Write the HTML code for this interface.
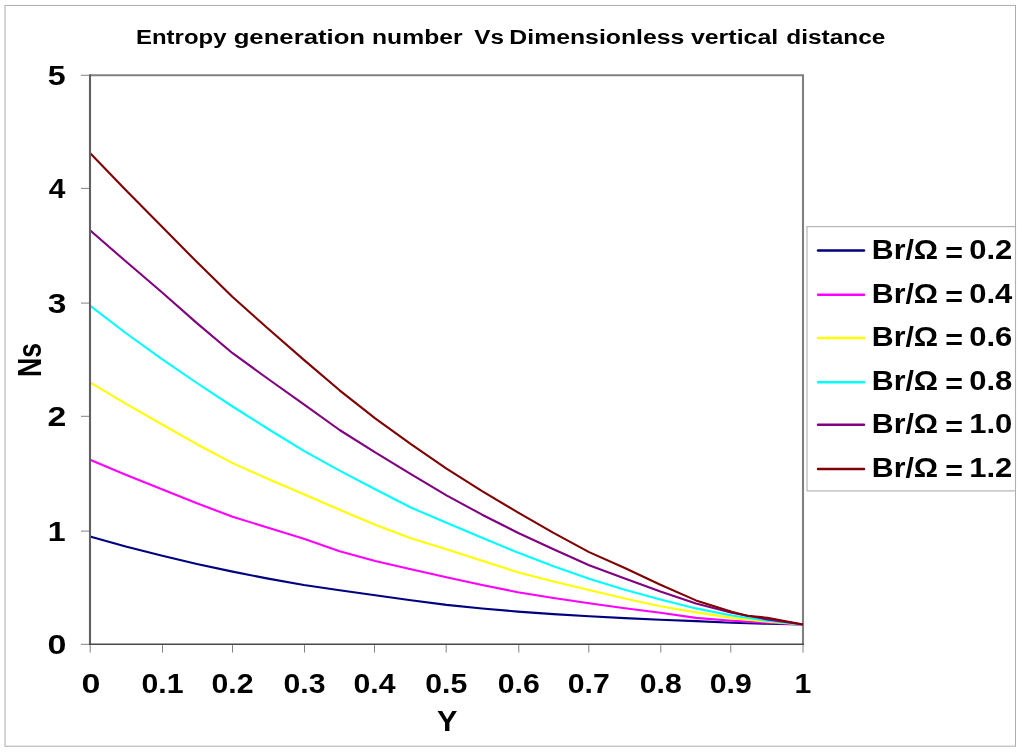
<!DOCTYPE html>
<html lang="en"><head><meta charset="utf-8">
<title>Entropy generation number Vs Dimensionless vertical distance</title>
<style>html,body{margin:0;padding:0;background:#fff;overflow:hidden}svg{display:block;will-change:transform;opacity:0.999}text{font-family:"Liberation Sans", Arial, Helvetica, sans-serif;font-weight:bold;fill:#000}</style>
</head><body>
<svg width="1024" height="755" viewBox="0 0 1024 755">
<rect x="0" y="0" width="1024" height="755" fill="#ffffff"/>
<rect x="5" y="5.45" width="1010.5" height="740.75" fill="none" stroke="#adadad" stroke-width="1"/>
<polyline points="90.0,75.3 803.0,75.3 803.0,645.1" fill="none" stroke="#808080" stroke-width="2.1" stroke-linejoin="miter"/>
<g fill="none" stroke-width="2.1" stroke-linejoin="round" stroke-linecap="butt">
<polyline stroke="#000080" points="90.0,536.4 125.7,546.5 161.3,555.6 196.9,563.9 232.6,571.6 268.2,578.6 303.9,585.0 339.6,590.3 375.2,595.2 410.9,600.2 446.5,604.9 482.1,608.5 517.8,611.6 553.5,614.1 589.1,616.3 624.8,618.1 660.4,619.7 696.0,621.1 731.7,622.7 767.4,623.8 803.0,624.5"/>
<polyline stroke="#ff00ff" points="90.0,459.7 125.7,474.7 161.3,489.0 196.9,503.3 232.6,516.7 268.2,527.8 303.9,538.8 339.6,551.2 375.2,560.9 410.9,569.3 446.5,577.3 482.1,585.0 517.8,592.2 553.5,598.0 589.1,603.3 624.8,608.2 660.4,612.8 696.0,617.9 731.7,620.7 767.4,622.8 803.0,624.5"/>
<polyline stroke="#ffff00" points="90.0,382.4 125.7,403.7 161.3,424.0 196.9,444.2 232.6,463.1 268.2,479.0 303.9,494.2 339.6,509.8 375.2,524.7 410.9,538.2 446.5,549.2 482.1,560.8 517.8,572.2 553.5,581.5 589.1,590.0 624.8,598.4 660.4,606.2 696.0,612.4 731.7,617.9 767.4,621.8 803.0,624.5"/>
<polyline stroke="#00ffff" points="90.0,305.7 125.7,333.0 161.3,358.6 196.9,383.0 232.6,406.5 268.2,429.0 303.9,450.8 339.6,470.6 375.2,489.2 410.9,507.5 446.5,522.8 482.1,537.7 517.8,552.6 553.5,566.3 589.1,578.7 624.8,589.8 660.4,599.5 696.0,608.4 731.7,615.5 767.4,620.7 803.0,624.5"/>
<polyline stroke="#800080" points="90.0,230.3 125.7,261.3 161.3,291.7 196.9,323.1 232.6,353.2 268.2,379.0 303.9,404.3 339.6,430.0 375.2,452.4 410.9,474.2 446.5,495.3 482.1,514.7 517.8,532.7 553.5,549.2 589.1,565.2 624.8,578.5 660.4,591.6 696.0,603.6 731.7,612.7 767.4,619.4 803.0,624.5"/>
<polyline stroke="#800000" points="90.0,152.9 125.7,190.0 161.3,226.0 196.9,262.1 232.6,297.0 268.2,328.7 303.9,359.9 339.6,390.3 375.2,418.3 410.9,444.1 446.5,468.6 482.1,491.1 517.8,512.4 553.5,532.9 589.1,552.1 624.8,568.0 660.4,584.8 696.0,600.4 731.7,611.7 747.0,615.8 767.4,617.7 803.0,624.5"/>
</g>
<line x1="90.0" y1="74.3" x2="90.0" y2="645.1" stroke="#606060" stroke-width="2.1"/>
<line x1="89.0" y1="644.3" x2="804.0" y2="644.3" stroke="#484848" stroke-width="1.6"/>
<g stroke="#747474" stroke-width="0.9">
<line x1="81" y1="644.3" x2="89.0" y2="644.3"/>
<line x1="81" y1="531.1" x2="89.0" y2="531.1"/>
<line x1="81" y1="416.3" x2="89.0" y2="416.3"/>
<line x1="81" y1="303.1" x2="89.0" y2="303.1"/>
<line x1="81" y1="188.4" x2="89.0" y2="188.4"/>
<line x1="81" y1="75.3" x2="89.0" y2="75.3"/>
<line x1="90.2" y1="645.1" x2="90.2" y2="652.6"/>
<line x1="162.5" y1="645.1" x2="162.5" y2="652.6"/>
<line x1="232.5" y1="645.1" x2="232.5" y2="652.6"/>
<line x1="304.5" y1="645.1" x2="304.5" y2="652.6"/>
<line x1="374.5" y1="645.1" x2="374.5" y2="652.6"/>
<line x1="446.2" y1="645.1" x2="446.2" y2="652.6"/>
<line x1="518.8" y1="645.1" x2="518.8" y2="652.6"/>
<line x1="588.8" y1="645.1" x2="588.8" y2="652.6"/>
<line x1="660.8" y1="645.1" x2="660.8" y2="652.6"/>
<line x1="730.8" y1="645.1" x2="730.8" y2="652.6"/>
<line x1="803.0" y1="645.1" x2="803.0" y2="652.6"/>
</g>
<text transform="translate(136.00,43.90) scale(1.1460,1)" font-size="20.9" text-anchor="start">Entropy</text>
<text transform="translate(233.64,43.90) scale(1.2309,1)" font-size="20.9" text-anchor="start">generation</text>
<text transform="translate(372.05,43.90) scale(1.1816,1)" font-size="20.9" text-anchor="start">number</text>
<text transform="translate(474.17,43.90) scale(1.1633,1)" font-size="20.9" text-anchor="start">Vs</text>
<text transform="translate(509.34,43.90) scale(1.1872,1)" font-size="20.9" text-anchor="start">Dimensionless</text>
<text transform="translate(690.88,43.90) scale(1.1941,1)" font-size="20.9" text-anchor="start">vertical</text>
<text transform="translate(786.20,43.90) scale(1.1701,1)" font-size="20.9" text-anchor="start">distance</text>
<text transform="translate(66.40,653.90) scale(1.2700,1)" font-size="26.8" text-anchor="end">0</text>
<text transform="translate(65.60,540.70) scale(1.2000,1)" font-size="26.8" text-anchor="end">1</text>
<text transform="translate(66.40,425.90) scale(1.2600,1)" font-size="26.8" text-anchor="end">2</text>
<text transform="translate(66.40,312.70) scale(1.2500,1)" font-size="26.8" text-anchor="end">3</text>
<text transform="translate(65.40,198.00) scale(1.1150,1)" font-size="26.8" text-anchor="end">4</text>
<text transform="translate(65.60,84.90) scale(1.2000,1)" font-size="26.8" text-anchor="end">5</text>
<text transform="translate(90.95,693.20) scale(1.2700,1)" font-size="26.8" text-anchor="middle">0</text>
<text transform="translate(162.50,693.20) scale(1.1300,1)" font-size="26.8" text-anchor="middle">0.1</text>
<text transform="translate(232.50,693.20) scale(1.1300,1)" font-size="26.8" text-anchor="middle">0.2</text>
<text transform="translate(304.50,693.20) scale(1.1300,1)" font-size="26.8" text-anchor="middle">0.3</text>
<text transform="translate(374.50,693.20) scale(1.1300,1)" font-size="26.8" text-anchor="middle">0.4</text>
<text transform="translate(446.25,693.20) scale(1.1300,1)" font-size="26.8" text-anchor="middle">0.5</text>
<text transform="translate(518.75,693.20) scale(1.1300,1)" font-size="26.8" text-anchor="middle">0.6</text>
<text transform="translate(588.75,693.20) scale(1.1300,1)" font-size="26.8" text-anchor="middle">0.7</text>
<text transform="translate(660.75,693.20) scale(1.1300,1)" font-size="26.8" text-anchor="middle">0.8</text>
<text transform="translate(730.75,693.20) scale(1.1300,1)" font-size="26.8" text-anchor="middle">0.9</text>
<text transform="translate(803.00,693.20) scale(1.1300,1)" font-size="26.8" text-anchor="middle">1</text>
<text transform="translate(447.30,731.00) scale(1.0530,1)" font-size="29.1" text-anchor="middle">Y</text>
<text transform="translate(41.00,360.00) rotate(-90) scale(0.8080,1.0000)" font-size="32.9" text-anchor="middle">Ns</text>
<rect x="807.0" y="226.6" width="208.5" height="264.3" fill="#ffffff" stroke="#b0b0b0" stroke-width="1.1"/>
<line x1="818.0" y1="250.5" x2="864.0" y2="250.5" stroke="#000080" stroke-width="2.4" stroke-linecap="round"/>
<text transform="translate(871.76,258.50) scale(1.1308,1)" font-size="26.8" text-anchor="start">Br/&#937;</text>
<text transform="translate(945.35,261.55) scale(1.1330,1)" font-size="26.8" text-anchor="start">=</text>
<text transform="translate(969.20,258.50) scale(1.1567,1)" font-size="26.8" text-anchor="start">0.2</text>
<line x1="818.0" y1="294.8" x2="864.0" y2="294.8" stroke="#ff00ff" stroke-width="2.4" stroke-linecap="round"/>
<text transform="translate(871.76,302.80) scale(1.1308,1)" font-size="26.8" text-anchor="start">Br/&#937;</text>
<text transform="translate(945.35,305.85) scale(1.1330,1)" font-size="26.8" text-anchor="start">=</text>
<text transform="translate(969.20,302.80) scale(1.1567,1)" font-size="26.8" text-anchor="start">0.4</text>
<line x1="818.0" y1="338.0" x2="864.0" y2="338.0" stroke="#ffff00" stroke-width="2.4" stroke-linecap="round"/>
<text transform="translate(871.76,346.00) scale(1.1308,1)" font-size="26.8" text-anchor="start">Br/&#937;</text>
<text transform="translate(945.35,349.05) scale(1.1330,1)" font-size="26.8" text-anchor="start">=</text>
<text transform="translate(969.20,346.00) scale(1.1567,1)" font-size="26.8" text-anchor="start">0.6</text>
<line x1="818.0" y1="382.2" x2="864.0" y2="382.2" stroke="#00ffff" stroke-width="2.4" stroke-linecap="round"/>
<text transform="translate(871.76,390.20) scale(1.1308,1)" font-size="26.8" text-anchor="start">Br/&#937;</text>
<text transform="translate(945.35,393.25) scale(1.1330,1)" font-size="26.8" text-anchor="start">=</text>
<text transform="translate(969.20,390.20) scale(1.1567,1)" font-size="26.8" text-anchor="start">0.8</text>
<line x1="818.0" y1="424.7" x2="864.0" y2="424.7" stroke="#800080" stroke-width="2.4" stroke-linecap="round"/>
<text transform="translate(871.76,432.70) scale(1.1308,1)" font-size="26.8" text-anchor="start">Br/&#937;</text>
<text transform="translate(945.35,435.75) scale(1.1330,1)" font-size="26.8" text-anchor="start">=</text>
<text transform="translate(969.20,432.70) scale(1.1567,1)" font-size="26.8" text-anchor="start">1.0</text>
<line x1="818.0" y1="469.0" x2="864.0" y2="469.0" stroke="#800000" stroke-width="2.4" stroke-linecap="round"/>
<text transform="translate(871.76,477.00) scale(1.1308,1)" font-size="26.8" text-anchor="start">Br/&#937;</text>
<text transform="translate(945.35,480.05) scale(1.1330,1)" font-size="26.8" text-anchor="start">=</text>
<text transform="translate(969.20,477.00) scale(1.1567,1)" font-size="26.8" text-anchor="start">1.2</text>
</svg>
</body></html>
